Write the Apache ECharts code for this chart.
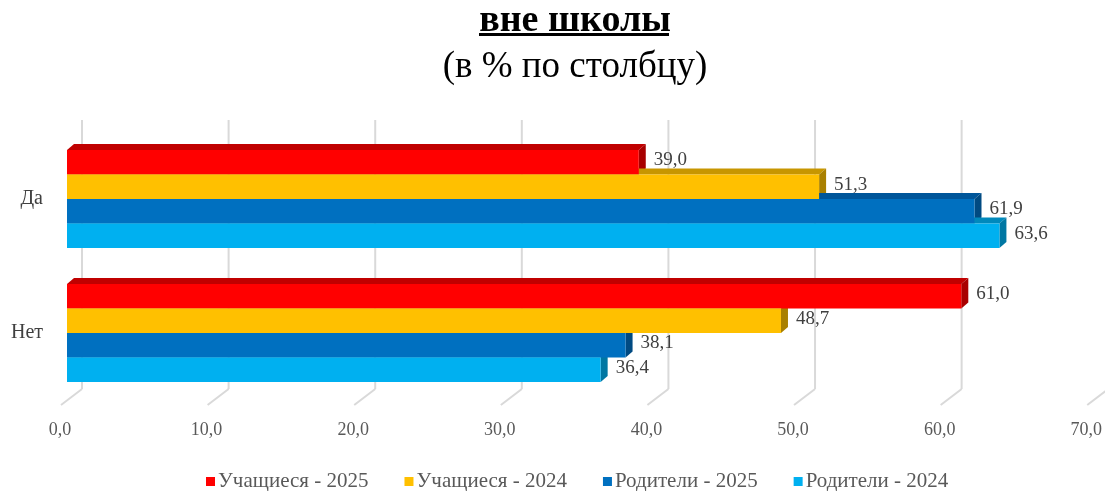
<!DOCTYPE html>
<html>
<head>
<meta charset="utf-8">
<script src="https://cdn.jsdelivr.net/npm/echarts@6/dist/echarts.min.js"></script>
<style>
html,body{margin:0;padding:0;background:#fff;}
#main{width:1105px;height:491px;}
</style>
</head>
<body>
<div id="main"></div>
<script>
// данные
var categories = ['Да', 'Нет'];
var seriesNames = ['Учащиеся - 2025', 'Учащиеся - 2024', 'Родители - 2025', 'Родители - 2024'];
var uch2025 = [39.0, 61.0];
var uch2024 = [51.3, 48.7];
var rod2025 = [61.9, 38.1];
var rod2024 = [63.6, 36.4];
var axisTicks = [0, 10, 20, 30, 40, 50, 60, 70];

var seriesData = [uch2025, uch2024, rod2025, rod2024];
// цвета: лицевая, верх, бок
var cFront = ['#FF0000', '#FFC000', '#0070C0', '#00B0F0'];
var cTop = ['#C00000', '#C79600', '#00569A', '#0089BC'];
var cSide = ['#A80000', '#A98000', '#004A82', '#0077A3'];

var DX = 7, DY = 6;
var FONT = '"Liberation Serif", "Times New Roman", serif';

function fmt(v){
	return v.toFixed(1).replace('.', ',');
}

function barRender(si){
	return function(params, api){
		var v = api.value(0), c = api.value(1);
		var p0 = api.coord([0, c]);
		var p1 = api.coord([v, c]);
		var band = api.size([0, 1])[1];
		var h = band * 0.183;
		var y = p0[1] + (si - 2) * h;
		var x0 = p0[0], x1 = p1[0];
		return {
			type: 'group',
			children: [
				{type: 'polygon', z2: 5, shape: {points: [[x0, y], [x0 + DX, y - DY], [x1 + DX, y - DY], [x1, y]]}, style: {fill: cTop[si]}},
				{type: 'polygon', z2: 5, shape: {points: [[x1, y], [x1 + DX, y - DY], [x1 + DX, y + h - DY], [x1, y + h]]}, style: {fill: cSide[si]}},
				{type: 'rect', z2: 10, shape: {x: x0, y: y, width: x1 - x0, height: h}, style: {fill: cFront[si]}},
				{type: 'text', z2: 20, style: {text: fmt(v), x: x1 + 15, y: y + h / 2 - 2, fill: '#404040', font: '19px ' + FONT, align: 'left', verticalAlign: 'middle'}}
			]
		};
	};
}

// линии сетки на задней стенке и на полу
function gridRender(params, api){
	var v = api.value(0);
	var x = api.coord([v, 0])[0];
	var cs = params.coordSys;
	var yBot = cs.y + cs.height - 11;
	return {
		type: 'group',
		children: [
			{type: 'line', z2: 1, shape: {x1: x + 15, y1: cs.y - 12, x2: x + 15, y2: yBot}, style: {stroke: '#D9D9D9', lineWidth: 2}},
			{type: 'line', z2: 1, shape: {x1: x + 15, y1: yBot, x2: x - 6, y2: yBot + 16}, style: {stroke: '#D9D9D9', lineWidth: 2}}
		]
	};
}

var series = [{
	type: 'custom',
	name: 'grid',
	silent: true,
	renderItem: gridRender,
	data: axisTicks.map(function(t){ return [t]; }),
	encode: {x: 0},
	z: 1
}];
for (var i = 0; i < seriesNames.length; i++) {
	series.push({
		type: 'custom',
		name: seriesNames[i],
		itemStyle: {color: cFront[i]},
		renderItem: barRender(i),
		data: seriesData[i].map(function(v, k){ return [v, k]; }),
		encode: {x: 0, y: 1},
		z: 2
	});
}

var chart = echarts.init(document.getElementById('main'));
var option = {
	animation: false,
	title: [{
		text: 'вне школы',
		left: 570,
		textAlign: 'center',
		top: -3,
		textStyle: {fontFamily: FONT, fontSize: 38, fontWeight: 'bold', color: '#000'},
		subtext: '(в % по столбцу)',
		subtextStyle: {fontFamily: FONT, fontSize: 37, color: '#000'},
		itemGap: 9
	}],
	// подчёркивание заголовка
	graphic: [{
		type: 'rect',
		left: 479,
		top: 33,
		shape: {width: 190, height: 3},
		style: {fill: '#000'}
	}],
	legend: {
		data: seriesNames,
		top: 466,
		left: 201,
		icon: 'rect',
		itemWidth: 9,
		itemHeight: 9,
		itemGap: 36,
		textStyle: {fontFamily: FONT, fontSize: 21, color: '#595959', padding: [0, 0, 0, -2]}
	},
	grid: {left: 67, right: 9, top: 132, bottom: 91},
	xAxis: {
		type: 'value',
		min: 0,
		max: 70,
		interval: 10,
		axisLine: {show: false},
		axisTick: {show: false},
		splitLine: {show: false},
		axisLabel: {
			margin: 21,
			fontFamily: FONT,
			fontSize: 18,
			color: '#595959',
			padding: [0, 14, 0, 0],
			formatter: function(v){ return fmt(v); }
		}
	},
	yAxis: {
		type: 'category',
		data: categories,
		inverse: true,
		axisLine: {show: false},
		axisTick: {show: false},
		axisLabel: {
			margin: 24,
			fontFamily: FONT,
			fontSize: 20,
			color: '#404040',
			padding: [14, 0, 0, 0]
		}
	},
	series: series
};
chart.setOption(option);
</script>
</body>
</html>
